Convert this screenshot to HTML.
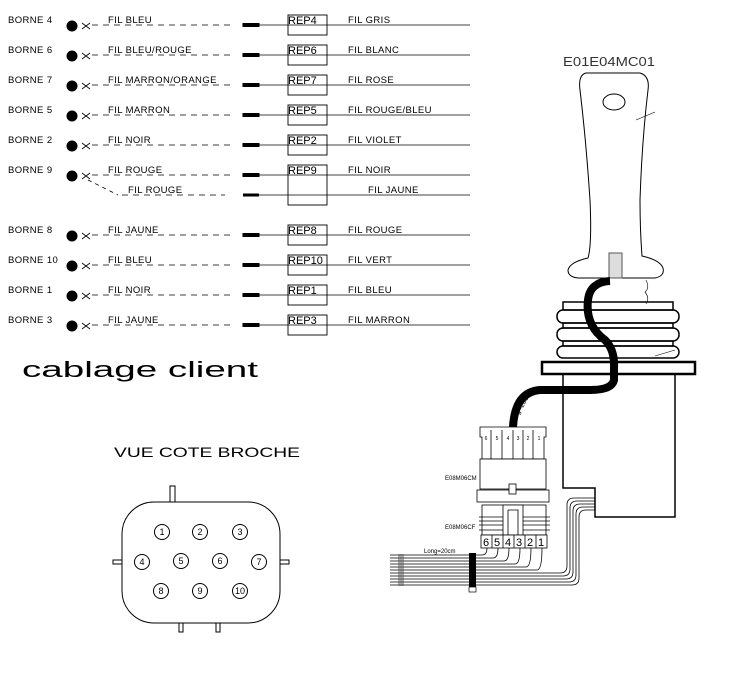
<!DOCTYPE html>
<html><head><meta charset="utf-8"><style>
html,body{margin:0;padding:0;background:#fff;}
svg{display:block;}
text{font-family:"Liberation Sans",sans-serif;fill:#000;}
.s{font-size:9.5px;letter-spacing:0.4px;}
.r{font-size:11px;}
</style></head><body>
<svg width="740" height="675" viewBox="0 0 740 675" xmlns="http://www.w3.org/2000/svg">
<defs>
<g id="row">
<circle cx="72" cy="1" r="5" fill="#000"/>
<path d="M82 -2 L90 4 M82 4 L90 -2" stroke="#000" stroke-width="0.8"/>
<line x1="92" y1="0" x2="230" y2="0" stroke="#000" stroke-width="0.8" stroke-dasharray="6,5"/>
<line x1="243" y1="0" x2="470" y2="0" stroke="#000" stroke-width="0.8"/>
<rect x="243" y="-1.5" width="16" height="3" fill="#000"/>
</g>
</defs>
<g fill="none" stroke="#000">
<use href="#row" y="25"/><use href="#row" y="55"/><use href="#row" y="85"/><use href="#row" y="115"/><use href="#row" y="145"/><use href="#row" y="175"/>
<use href="#row" y="235"/><use href="#row" y="265"/><use href="#row" y="295"/><use href="#row" y="325"/>
<line x1="88" y1="180" x2="118" y2="195" stroke-dasharray="4,4" stroke-width="0.8"/>
<line x1="122" y1="195" x2="225" y2="195" stroke-dasharray="6,5" stroke-width="0.8"/>
<line x1="243" y1="195" x2="470" y2="195" stroke-width="0.8"/>
<rect x="243" y="193.5" width="16" height="3" fill="#000" stroke="none"/>
<g stroke-width="0.9">
<rect x="288" y="15" width="39" height="20"/><rect x="288" y="45" width="39" height="20"/><rect x="288" y="75" width="39" height="20"/><rect x="288" y="105" width="39" height="20"/><rect x="288" y="135" width="39" height="20"/><rect x="288" y="165" width="39" height="40"/>
<rect x="288" y="225" width="39" height="20"/><rect x="288" y="255" width="39" height="20"/><rect x="288" y="285" width="39" height="20"/><rect x="288" y="315" width="39" height="20"/>
</g>
</g>
<g class="s">
<text x="8" y="23">BORNE 4</text><text x="8" y="53">BORNE 6</text><text x="8" y="83">BORNE 7</text><text x="8" y="113">BORNE 5</text><text x="8" y="143">BORNE 2</text><text x="8" y="173">BORNE 9</text>
<text x="8" y="233">BORNE 8</text><text x="8" y="263">BORNE 10</text><text x="8" y="293">BORNE 1</text><text x="8" y="323">BORNE 3</text>
<text x="108" y="23">FIL BLEU</text><text x="108" y="53">FIL BLEU/ROUGE</text><text x="108" y="83">FIL MARRON/ORANGE</text><text x="108" y="113">FIL MARRON</text><text x="108" y="143">FIL NOIR</text><text x="108" y="173">FIL ROUGE</text><text x="128" y="193">FIL ROUGE</text>
<text x="108" y="233">FIL JAUNE</text><text x="108" y="263">FIL BLEU</text><text x="108" y="293">FIL NOIR</text><text x="108" y="323">FIL JAUNE</text>
<text x="348" y="23">FIL GRIS</text><text x="348" y="53">FIL BLANC</text><text x="348" y="83">FIL ROSE</text><text x="348" y="113">FIL ROUGE/BLEU</text><text x="348" y="143">FIL VIOLET</text><text x="348" y="173">FIL NOIR</text><text x="368" y="193">FIL JAUNE</text>
<text x="348" y="233">FIL ROUGE</text><text x="348" y="263">FIL VERT</text><text x="348" y="293">FIL BLEU</text><text x="348" y="323">FIL MARRON</text>
</g>
<g class="r">
<text x="288" y="24">REP4</text><text x="288" y="54">REP6</text><text x="288" y="84">REP7</text><text x="288" y="114">REP5</text><text x="288" y="144">REP2</text><text x="288" y="174">REP9</text>
<text x="288" y="234">REP8</text><text x="288" y="264">REP10</text><text x="288" y="294">REP1</text><text x="288" y="324">REP3</text>
</g>
<text x="22" y="377" style="font-size:22px" textLength="236" lengthAdjust="spacingAndGlyphs">cablage client</text>
<text x="114" y="457" style="font-size:14px" textLength="186" lengthAdjust="spacingAndGlyphs">VUE COTE BROCHE</text>
<text x="563" y="66" style="font-size:13px;fill:#333" textLength="92" lengthAdjust="spacingAndGlyphs">E01E04MC01</text>

<!-- connector view -->
<g fill="none" stroke="#000" stroke-width="1">
<rect x="170" y="486" width="5" height="16"/>
<rect x="113" y="560" width="9" height="4"/><rect x="280" y="560" width="9" height="4"/>
<rect x="179" y="623" width="4" height="9"/><rect x="216" y="623" width="4" height="9"/>
<rect x="122" y="502" width="158" height="121" rx="32" ry="32" fill="#fff"/>
<circle cx="162" cy="532" r="7.5"/><circle cx="200" cy="532" r="7.5"/><circle cx="240" cy="532" r="7.5"/>
<circle cx="142" cy="562" r="7.5"/><circle cx="181" cy="561" r="7.5"/><circle cx="220" cy="561" r="7.5"/><circle cx="259" cy="562" r="7.5"/>
<circle cx="161" cy="591" r="7.5"/><circle cx="200" cy="591" r="7.5"/><circle cx="240" cy="591" r="7.5"/>
</g>
<g style="font-size:9px" text-anchor="middle">
<text x="162" y="535">1</text><text x="200" y="535">2</text><text x="240" y="535">3</text>
<text x="142" y="565">4</text><text x="181" y="564">5</text><text x="220" y="564">6</text><text x="259" y="565">7</text>
<text x="161" y="594">8</text><text x="200" y="594">9</text><text x="240" y="594">10</text>
</g>

<!-- joystick -->
<g fill="none" stroke="#000" stroke-width="1">
<path d="M586 73 Q578 75 580 90 Q586 140 590 200 Q592 245 588 258 Q570 262 568 270 Q568 277 578 278 L655 278 Q665 276 663 268 Q660 260 642 256 Q640 230 640 200 Q642 140 648 90 Q650 76 640 73 Z"/>
<ellipse cx="614" cy="102" rx="11" ry="8"/>
<line x1="636" y1="120" x2="655" y2="112" stroke-width="0.6"/>
<rect x="609" y="253" width="13" height="25" fill="#ddd" stroke="#555"/>
<path d="M646 280 q4 8 -1 12 q5 6 1 12" stroke-width="0.6"/>
<rect x="563" y="302" width="110" height="8" stroke-width="1.5"/>
<rect x="557" y="310" width="122" height="13" rx="6" stroke-width="1.5"/>
<rect x="563" y="323" width="110" height="5" stroke-width="1.5"/>
<rect x="557" y="328" width="122" height="13" rx="6" stroke-width="1.5"/>
<rect x="563" y="341" width="110" height="5" stroke-width="1.5"/>
<rect x="557" y="346" width="122" height="12" rx="6" stroke-width="1.5"/>
<line x1="655" y1="356" x2="675" y2="350" stroke-width="0.6"/>
<rect x="542" y="362" width="153" height="12" stroke-width="2.5" fill="#fff"/>
<path d="M563 374 L563 488 L595 488 L595 517 L675 517 L675 374" stroke-width="1.5"/>
</g>
<!-- cable -->
<path d="M610 281 Q590 282 588 300 Q585 325 605 340 Q615 350 614 368 L614 380 Q612 390 590 390 L540 390 Q515 392 513 427" fill="none" stroke="#000" stroke-width="8"/>
<text transform="translate(513,425) rotate(-60)" style="font-size:7px">Long=20cm</text>

<!-- male connector -->
<g fill="#fff" stroke="#000" stroke-width="0.8">
<path d="M480 427 L546 427 L546 437 L544 437 L544 459 L482 459 L482 437 L480 437 Z"/>
<line x1="491" y1="430" x2="491" y2="459"/><line x1="502" y1="430" x2="502" y2="459"/><line x1="513" y1="430" x2="513" y2="461"/><line x1="523" y1="430" x2="523" y2="459"/><line x1="533" y1="430" x2="533" y2="459"/>
<rect x="480" y="459" width="66" height="30"/>
<rect x="477" y="490" width="72" height="12"/>
<rect x="509" y="484" width="7" height="10"/>
<rect x="482" y="505" width="64" height="30"/>
<line x1="479" y1="517" x2="550" y2="517"/><line x1="479" y1="521" x2="550" y2="521"/><line x1="479" y1="525" x2="550" y2="525"/><line x1="479" y1="530" x2="550" y2="530"/>
<path d="M503 505 L523 505 L523 535 L503 535 Z M508 510 L518 510 L518 535 M508 510 L508 535"/>
<rect x="481" y="535" width="66" height="13"/>
<line x1="492" y1="535" x2="492" y2="548"/><line x1="503" y1="535" x2="503" y2="548"/><line x1="514" y1="535" x2="514" y2="548"/><line x1="525" y1="535" x2="525" y2="548"/><line x1="536" y1="535" x2="536" y2="548"/>
</g>
<g style="font-size:5px" text-anchor="middle"><text x="486" y="440">6</text><text x="497" y="440">5</text><text x="508" y="440">4</text><text x="518" y="440">3</text><text x="528" y="440">2</text><text x="539" y="440">1</text></g>
<g style="font-size:11px" text-anchor="middle"><text x="486" y="546">6</text><text x="497" y="546">5</text><text x="508" y="546">4</text><text x="519" y="546">3</text><text x="530" y="546">2</text><text x="541" y="546">1</text></g>
<text x="445" y="480" style="font-size:6px">E08M06CM</text>
<text x="445" y="529" style="font-size:6px">E08M06CF</text>
<text x="424" y="553" style="font-size:6px">Long=20cm</text>
<!-- wires -->
<g fill="none" stroke="#000" stroke-width="0.8">
<path d="M390 555 L482 555 Q487 555 487 548"/>
<path d="M390 558 L493 558 Q498 558 498 548"/>
<path d="M390 561 L504 561 Q509 561 509 548"/>
<path d="M390 564 L515 564 Q520 564 520 548"/>
<path d="M390 567 L526 567 Q531 567 531 548"/>
<path d="M390 570 L537 570 Q542 570 542 548"/>
<path d="M390 573 L560 573 Q567 573 567 566 L567 505 Q567 498 574 498 L595 498"/>
<path d="M390 576 L563 576 Q570 576 570 569 L570 508 Q570 501 577 501 L595 501"/>
<path d="M390 579 L566 579 Q573 579 573 572 L573 511 Q573 504 580 504 L595 504"/>
<path d="M390 582 L569 582 Q576 582 576 575 L576 514 Q576 507 583 507 L595 507"/>
<path d="M390 585 L572 585 Q579 585 579 578 L579 517 Q579 510 586 510 L595 510"/>
</g>
<rect x="469" y="553" width="7" height="34" fill="#000"/>
<rect x="469" y="587" width="7" height="5" fill="none" stroke="#000" stroke-width="0.7"/>
<g fill="#555"><rect x="398" y="554" width="6" height="32" opacity="0.5"/></g>
</svg>
</body></html>
